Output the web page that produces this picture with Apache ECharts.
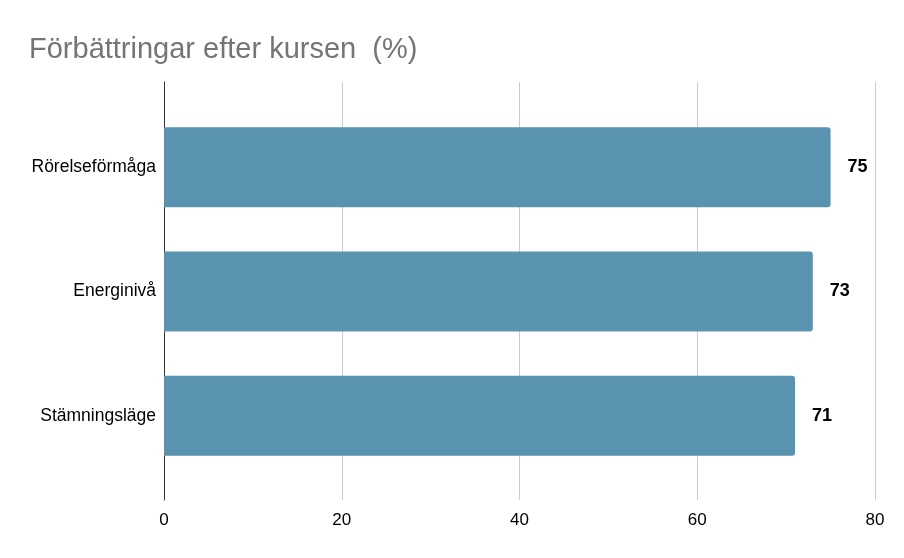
<!DOCTYPE html>
<html>
<head>
<meta charset="utf-8">
<script src="https://cdn.jsdelivr.net/npm/echarts@6/dist/echarts.min.js"></script>
<style>html,body{margin:0;padding:0;background:#fff;}#c{width:904px;height:558px;}</style>
</head>
<body>
<div id="c"></div>
<script>
const titleText = 'Förbättringar efter kursen  (%)';
const categories = ['Rörelseförmåga', 'Energinivå', 'Stämningsläge'];
const values = [75, 73, 71];
const xTicks = [0, 20, 40, 60, 80];

const chart = echarts.init(document.getElementById('c'), null, {renderer: 'canvas'});
const font = '"Liberation Sans", Arial, sans-serif';
chart.setOption({
  animation: false,
  backgroundColor: '#fff',
  title: {
    text: titleText, left: 29, top: 35, padding: 0,
    textStyle: {fontFamily: font, fontSize: 29, fontWeight: 'normal', color: '#757575'}
  },
  grid: [
    {left: 164, right: 29, top: 82, bottom: 58, containLabel: false},
    {left: 164, right: 29, top: 105, bottom: 80, containLabel: false}
  ],
  xAxis: [
    {gridIndex: 0, type: 'value', min: xTicks[0], max: xTicks[xTicks.length-1], interval: 20,
     axisLine: {show: false}, axisTick: {show: false},
     axisLabel: {color: '#000', fontFamily: font, fontSize: 17, margin: 12},
     splitLine: {show: true, lineStyle: {color: '#cccccc', width: 1}}},
    {gridIndex: 1, type: 'value', min: xTicks[0], max: xTicks[xTicks.length-1], interval: 20,
     show: false, splitLine: {show: false}}
  ],
  yAxis: [
    {gridIndex: 0, type: 'category', data: categories, inverse: true,
     axisLine: {show: true, lineStyle: {color: '#333', width: 1}},
     axisTick: {show: false}, axisLabel: {show: false}, splitLine: {show: false}},
    {gridIndex: 1, type: 'category', data: categories, inverse: true,
     axisLine: {show: false}, axisTick: {show: false},
     axisLabel: {color: '#000', fontFamily: font, fontSize: 17.5, margin: 8},
     splitLine: {show: false}}
  ],
  series: [{
    type: 'bar', xAxisIndex: 1, yAxisIndex: 1,
    data: values, barWidth: 80,
    itemStyle: {color: '#5a93b0', borderRadius: [0, 3, 3, 0]},
    label: {show: true, position: 'right', distance: 17, color: '#000',
            fontFamily: font, fontSize: 18, fontWeight: 'bold'}
  }]
});
</script>
</body>
</html>
